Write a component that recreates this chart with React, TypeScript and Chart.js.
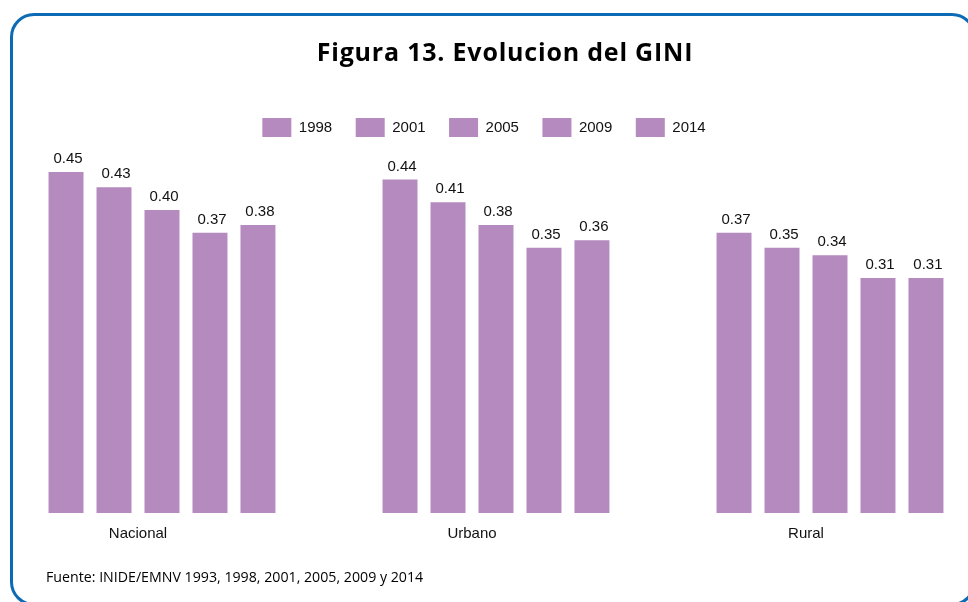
import React, { useEffect, useRef } from "react";
import { Chart, registerables } from "chart.js";

Chart.register(...registerables);

// ---- data ----
const categories = ["Nacional", "Urbano", "Rural"];
const years = ["1993", "1998", "2001", "2005", "2009", "2014"];
const gini1993: (number | null)[] = [null, null, null];
const gini1998 = [0.45, 0.44, 0.37];
const gini2001 = [0.43, 0.41, 0.35];
const gini2005 = [0.4, 0.38, 0.34];
const gini2009 = [0.37, 0.35, 0.31];
const gini2014 = [0.38, 0.36, 0.31];
const seriesValues = [gini1993, gini1998, gini2001, gini2005, gini2009, gini2014];

const titleText = "Figura 13. Evolucion del GINI";
const sourceText = "Fuente: INIDE/EMNV 1993, 1998, 2001, 2005, 2009 y 2014";

const BAR_COLOR = "#b58abe";
const TEXT_COLOR = "#111111";
const BORDER_COLOR = "#0d6bb5";
const ARIAL = "'Liberation Sans', Arial, sans-serif";

const valueLabels = {
  id: "valueLabels",
  afterDatasetsDraw(chart: any) {
    const ctx = chart.ctx;
    ctx.save();
    ctx.font = `15px ${ARIAL}`;
    ctx.fillStyle = TEXT_COLOR;
    ctx.textAlign = "center";
    ctx.textBaseline = "alphabetic";
    chart.data.datasets.forEach((ds: any, i: number) => {
      const meta = chart.getDatasetMeta(i);
      meta.data.forEach((bar: any, j: number) => {
        const v = ds.data[j];
        if (v == null) return;
        ctx.fillText(Number(v).toFixed(2), bar.x + 2, bar.y - 9);
      });
    });
    ctx.restore();
  },
};

export default function App() {
  const canvasRef = useRef<HTMLCanvasElement | null>(null);

  useEffect(() => {
    if (!canvasRef.current) return;
    const chart = new Chart(canvasRef.current, {
      type: "bar",
      data: {
        labels: categories,
        datasets: years.map((y, i) => ({
          label: y,
          data: seriesValues[i],
          backgroundColor: BAR_COLOR,
          borderWidth: 0,
          categoryPercentage: 0.862,
          barPercentage: 0.729,
          clip: false as any,
        })),
      },
      options: {
        animation: false,
        responsive: false,
        maintainAspectRatio: false,
        devicePixelRatio: 1,
        layout: { padding: { top: 94.5, bottom: 47, left: 0, right: 0 } },
        plugins: {
          title: { display: false },
          tooltip: { enabled: false },
          legend: {
            display: true,
            position: "top",
            align: "center",
            labels: {
              font: { size: 15, family: ARIAL },
              color: TEXT_COLOR,
              boxWidth: 29,
              boxHeight: 19,
              padding: 23.5,
              filter: (item: any) => item.text !== "1993",
            },
          },
        },
        scales: {
          x: {
            type: "category",
            offset: false,
            grid: { display: false, drawTicks: false, offset: false },
            border: { display: false },
            ticks: {
              font: { size: 15, family: ARIAL },
              color: TEXT_COLOR,
              padding: 12,
              maxRotation: 0,
              autoSkip: false,
            },
          },
          y: {
            type: "linear",
            position: "left",
            min: 0,
            max: 0.483,
            grid: { display: false, drawTicks: false },
            border: { display: false },
            ticks: { display: false },
            afterFit: (s: any) => {
              s.width = 138;
            },
          },
          yRight: {
            type: "linear",
            position: "right",
            min: 0,
            max: 0.483,
            grid: { display: false, drawTicks: false },
            border: { display: false },
            ticks: { display: false },
            afterFit: (s: any) => {
              s.width = 162;
            },
          },
        },
      },
      plugins: [valueLabels],
    } as any);
    return () => chart.destroy();
  }, []);

  return (
    <div
      style={{
        position: "absolute",
        left: 0,
        top: 0,
        width: 968,
        height: 602,
        overflow: "hidden",
        background: "#ffffff",
      }}
    >
      <div
        style={{
          position: "absolute",
          left: 10,
          top: 12.5,
          width: 966,
          height: 593,
          boxSizing: "border-box",
          border: `3px solid ${BORDER_COLOR}`,
          borderRadius: 24,
        }}
      />
      <canvas
        ref={canvasRef}
        width={968}
        height={602}
        style={{ position: "absolute", left: 0, top: 0, width: 968, height: 602 }}
      />
      <div
        style={{
          position: "absolute",
          left: 505,
          top: 39,
          transform: "translateX(-50%)",
          whiteSpace: "nowrap",
          fontFamily: "'Open Sans', sans-serif",
          fontWeight: 700,
          fontSize: 25,
          letterSpacing: "0.8px",
          lineHeight: "25px",
          color: "#000",
        }}
      >
        {titleText}
      </div>
      <div
        style={{
          position: "absolute",
          left: 46,
          top: 570,
          whiteSpace: "nowrap",
          fontFamily: "'Open Sans', sans-serif",
          fontSize: 14.2,
          lineHeight: "14px",
          color: "#000",
        }}
      >
        {sourceText}
      </div>
    </div>
  );
}
